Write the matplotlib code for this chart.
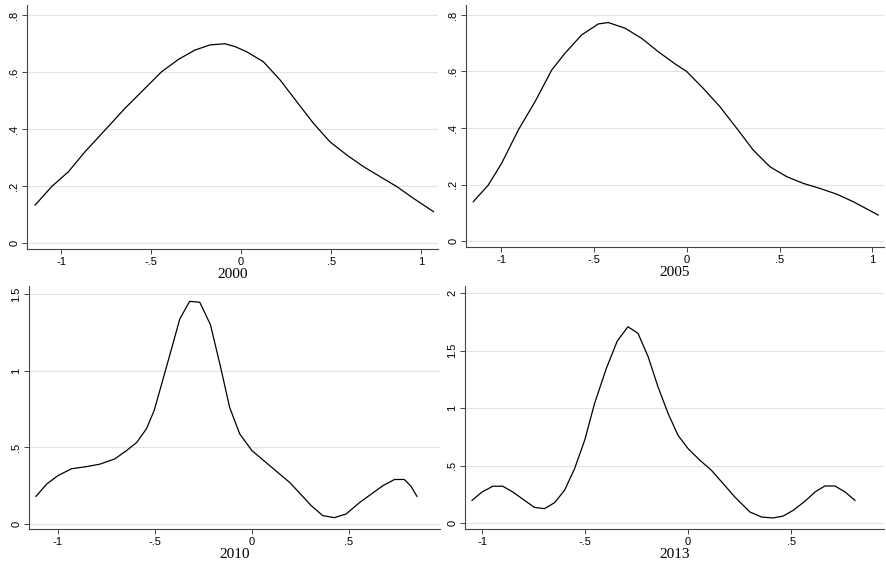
import matplotlib
matplotlib.use("Agg")
import matplotlib.pyplot as plt

# Dados (densidade kernel por ano)
x_2000 = [-1.144, -1.052, -0.959, -0.867, -0.756, -0.644, -0.533, -0.441, -0.348, -0.256,
          -0.172, -0.089, -0.033, 0.031, 0.124, 0.217, 0.309, 0.402, 0.494, 0.587,
          0.68, 0.772, 0.865, 0.957, 1.069]
y_2000 = [0.133, 0.198, 0.25, 0.32, 0.396, 0.473, 0.543, 0.601, 0.644, 0.677,
          0.695, 0.699, 0.689, 0.671, 0.636, 0.572, 0.496, 0.42, 0.355, 0.309,
          0.268, 0.233, 0.198, 0.157, 0.11]

x_2005 = [-1.152, -1.071, -0.999, -0.909, -0.819, -0.729, -0.658, -0.568, -0.478, -0.424,
          -0.334, -0.244, -0.155, -0.065, -0.002, 0.088, 0.178, 0.268, 0.357, 0.447,
          0.537, 0.627, 0.717, 0.807, 0.897, 1.031]
y_2005 = [0.139, 0.198, 0.275, 0.393, 0.493, 0.605, 0.664, 0.729, 0.768, 0.773,
          0.753, 0.717, 0.67, 0.627, 0.6, 0.54, 0.475, 0.399, 0.322, 0.263,
          0.228, 0.204, 0.186, 0.166, 0.139, 0.092]

x_2010 = [-1.113, -1.058, -1.0, -0.93, -0.852, -0.784, -0.707, -0.647, -0.595, -0.544,
          -0.504, -0.458, -0.415, -0.372, -0.321, -0.269, -0.214, -0.163, -0.115, -0.063,
          0.0, 0.195, 0.305, 0.365, 0.425, 0.485, 0.555, 0.675, 0.735, 0.785, 0.82, 0.85]
y_2010 = [0.18, 0.26, 0.315, 0.36, 0.374, 0.39, 0.424, 0.478, 0.53, 0.62,
          0.74, 0.946, 1.14, 1.337, 1.452, 1.446, 1.30, 1.03, 0.76, 0.587,
          0.478, 0.27, 0.12, 0.054, 0.041, 0.065, 0.14, 0.25, 0.29, 0.29, 0.245, 0.18]

x_2013 = [-1.049, -1.0, -0.948, -0.9, -0.851, -0.794, -0.746, -0.697, -0.648, -0.6,
          -0.551, -0.502, -0.454, -0.397, -0.344, -0.292, -0.243, -0.194, -0.146, -0.097,
          -0.049, 0.0, 0.057, 0.113, 0.17, 0.227, 0.30, 0.357, 0.413, 0.462, 0.51, 0.567,
          0.616, 0.664, 0.713, 0.762, 0.81]
y_2013 = [0.197, 0.27, 0.32, 0.32, 0.27, 0.197, 0.136, 0.125, 0.177, 0.284,
          0.473, 0.72, 1.04, 1.344, 1.582, 1.707, 1.649, 1.446, 1.184, 0.952,
          0.763, 0.647, 0.546, 0.459, 0.343, 0.226, 0.096, 0.052, 0.044, 0.061, 0.11, 0.189,
          0.27, 0.322, 0.322, 0.27, 0.197]

anos = ['2000', '2005', '2010', '2013']
xs = [x_2000, x_2005, x_2010, x_2013]
ys = [y_2000, y_2005, y_2010, y_2013]

xticks = [[-1, -0.5, 0, 0.5, 1], [-1, -0.5, 0, 0.5, 1], [-1, -0.5, 0, 0.5], [-1, -0.5, 0, 0.5]]
xticklabels = [['-1', '-.5', '0', '.5', '1'], ['-1', '-.5', '0', '.5', '1'],
               ['-1', '-.5', '0', '.5'], ['-1', '-.5', '0', '.5']]
yticks = [[0, 0.2, 0.4, 0.6, 0.8], [0, 0.2, 0.4, 0.6, 0.8], [0, 0.5, 1, 1.5], [0, 0.5, 1, 1.5, 2]]
yticklabels = [['0', '.2', '.4', '.6', '.8'], ['0', '.2', '.4', '.6', '.8'],
               ['0', '.5', '1', '1.5'], ['0', '.5', '1', '1.5', '2']]
xlims = [(-1.189, 1.094), (-1.191, 1.062), (-1.149, 0.969), (-1.083, 0.951)]
ylims = [(-0.021, 0.835), (-0.021, 0.835), (-0.033, 1.552), (-0.052, 2.061)]

# posições dos eixos em pixels: (esquerda, topo, direita, base)
caixas = [(27, 5, 438, 249), (466, 5, 884, 247), (29, 286, 440, 529), (465, 286, 884, 529)]

W, H = 886, 565
fig = plt.figure(figsize=(W / 100, H / 100), dpi=100)
fig.patch.set_facecolor('white')

for i in range(4):
    l, t, r, b = caixas[i]
    ax = fig.add_axes([l / W, 1 - b / H, (r - l) / W, (b - t) / H])
    ax.plot(xs[i], ys[i], color='black', linewidth=0.9)
    ax.set_xlim(*xlims[i])
    ax.set_ylim(*ylims[i])
    ax.set_xticks(xticks[i])
    ax.set_xticklabels(xticklabels[i], fontfamily='Liberation Sans', fontsize=8)
    ax.set_yticks(yticks[i])
    ax.set_yticklabels(yticklabels[i], fontfamily='Liberation Sans', fontsize=8,
                       rotation=90, va='center')
    ax.yaxis.grid(True, color='#e4e4e4', linewidth=0.9)
    ax.set_axisbelow(True)
    for lado in ['top', 'right']:
        ax.spines[lado].set_visible(False)
    for lado in ['left', 'bottom']:
        ax.spines[lado].set_color('#444444')
        ax.spines[lado].set_linewidth(0.8)
    ax.tick_params(length=3.5, width=0.7, color='#444444', pad=2)
    ax.set_xlabel(anos[i], fontfamily='Liberation Serif', fontsize=11, labelpad=1)

fig.savefig('out.png', dpi=100, facecolor='white')
